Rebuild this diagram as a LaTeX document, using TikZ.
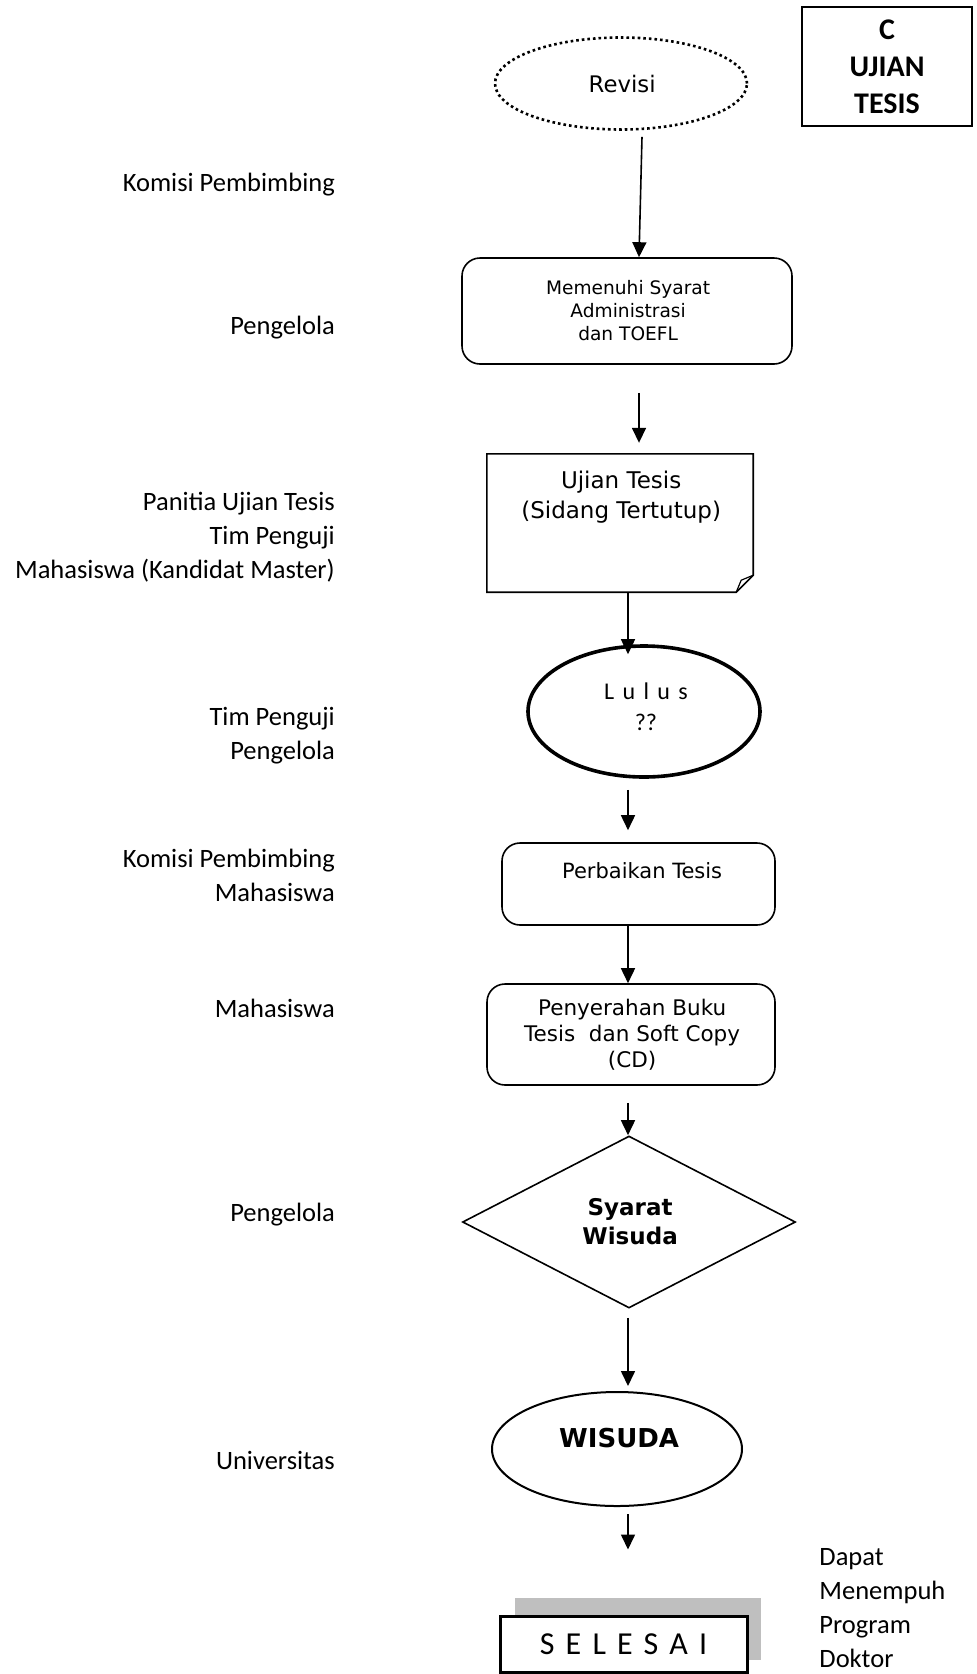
\documentclass[tikz,border=0pt]{standalone}
\usepackage{fontspec}
\setmainfont{Carlito}
\newfontfamily\verdanafont{DejaVu Sans}
\newfontfamily\spacedfont[LetterSpace=35]{Carlito}
\usetikzlibrary{shapes.geometric,arrows.meta,positioning}

\begin{document}
\begin{tikzpicture}[x=1pt,y=-1pt,
	box/.style={draw,line width=1.6pt,rounded corners=18pt,inner sep=0pt},
	arr/.style={line width=1.6pt,-{Triangle[width=14pt,length=15pt]}},
	lbl/.style={anchor=east,align=right,inner sep=0pt,font=\myfontlabel},
	txt/.style={align=center,inner sep=0pt}]
	\newcommand{\myfontlabel}{
		\fontsize{26.5}{34}\selectfont
	}\newcommand{\myfontnode}[2]{
		\verdanafont\fontsize{#1}{#2}\selectfont
	}%Page
	\useasboundingbox (0,0) rectangle (977,1674);
	%Columns of the arrows
	\coordinate (axisup) at (639,0);
	\coordinate (axis) at (628,0);
	%Title box
	\node [draw,line width=1.6pt,minimum width=170pt,minimum height=119pt,align=center,
		font=\bfseries\fontsize{30}{37}\selectfont] (title) at (887,66.5) {C\\UJIAN\\TESIS};
	%Revisi
	\node [ellipse,draw,line width=2.6pt,dash pattern=on 2.6pt off 3pt,minimum width=252pt,
		minimum height=92pt,inner sep=0pt,font=\myfontnode{22.8}{28}] (revisi) at (621,83.5) {Revisi};
	%Memenuhi syarat
	\node [box,minimum width=330pt,minimum height=106pt,align=center,
		font=\myfontnode{18.6}{23}] (memenuhi) at (627,311) {Memenuhi Syarat\\Administrasi\\dan TOEFL};
	%Ujian tesis (document with folded corner)
	\node [minimum width=266pt,minimum height=138pt,inner sep=0pt] (ujian) at (620,523) {};
	\draw [line width=1.6pt] (ujian.north west) -- (ujian.north east) -- ([yshift=17pt]ujian.south east)
		-- ([xshift=-17pt]ujian.south east) -- (ujian.south west) -- cycle;
	\draw [line width=1.2pt] ([xshift=-17pt]ujian.south east) -- ([xshift=-12pt,yshift=12pt]ujian.south east)
		-- ([yshift=17pt]ujian.south east);
	\node [txt,font=\myfontnode{23}{30}] (ujiantext) at (620,497) {Ujian Tesis\\(Sidang Tertutup)};
	%Lulus
	\node [ellipse,draw,line width=3.6pt,minimum width=232pt,minimum height=131pt,inner sep=0pt] (lulus) at (644,711.5) {};
	\node [txt,font=\fontsize{24}{31}\selectfont] (lulustext) at (646,706.5) {{\spacedfont Lulus}\\??};
	%Perbaikan tesis
	\node [box,minimum width=273pt,minimum height=82pt] (perbaikan) at (638.5,884) {};
	\node [txt,font=\myfontnode{21}{26}] (perbaikantext) at (641,871) {Perbaikan Tesis};
	%Penyerahan buku
	\node [box,minimum width=288pt,minimum height=101pt,align=center,
		font=\myfontnode{21.5}{26}] (penyerahan) at (631,1034.5) {Penyerahan Buku\\Tesis~ dan Soft Copy\\(CD)};
	%Syarat wisuda
	\node [diamond,draw,line width=1.6pt,minimum width=333pt,minimum height=172pt,inner sep=0pt,align=center,
		font=\bfseries\myfontnode{23}{29}] (syarat) at (629,1222) {Syarat\\Wisuda};
	%Wisuda
	\node [ellipse,draw,line width=2pt,minimum width=250pt,minimum height=114pt,inner sep=0pt] (wisuda) at (617,1449) {};
	\node [txt,font=\bfseries\myfontnode{26}{32}] (wisudatext) at (618,1438) {WISUDA};
	%Selesai with its shadow
	\fill [gray!50] (515,1598) rectangle (761,1660);
	\node [draw,fill=white,line width=3pt,minimum width=247pt,minimum height=56pt,inner sep=0pt,
		font=\spacedfont\fontsize{32}{38}\selectfont] (selesai) at (623.5,1644) {SELESAI};
	\node [anchor=west,align=left,inner sep=0pt,font=\myfontlabel] (dapat) at (817,1608) {Dapat\\Menempuh\\Program\\Doktor};
	%Labels on the left
	\node [lbl] (komisi) at (335,185) {Komisi Pembimbing};
	\node [lbl] (pengelola) at (335,328) {Pengelola};
	\node [lbl] (panitia) at (335,537.5) {Panitia Ujian Tesis\\Tim Penguji\\Mahasiswa (Kandidat Master)};
	\node [lbl] (penguji) at (335,736) {Tim Penguji\\Pengelola};
	\node [lbl] (komisibawah) at (335,875) {Komisi Pembimbing\\Mahasiswa};
	\node [lbl] (mahasiswa) at (335,1008) {Mahasiswa};
	\node [lbl] (pengelolabawah) at (335,1215) {Pengelola};
	\node [lbl] (universitas) at (335,1460) {Universitas};
	%Arrows
	\draw [arr] ([xshift=21pt,yshift=-6pt]revisi.south) -- ([xshift=12pt]memenuhi.north);
	\draw [arr] ([yshift=-28pt]memenuhi.south -| axisup) -- ([yshift=11pt]ujian.north -| axisup);
	\draw [arr] (ujian.south -| axis) -- ([yshift=-10pt]lulus.north -| axis);
	\draw [arr] ([yshift=-11pt]lulus.south -| axis) -- ([yshift=12pt]perbaikan.north -| axis);
	\draw [arr] (perbaikan.south -| axis) -- (penyerahan.north -| axis);
	\draw [arr] ([yshift=-17pt]penyerahan.south -| axis) -- (syarat.north -| axis);
	\draw [arr] ([yshift=-9pt]syarat.south -| axis) -- ([yshift=5pt]wisuda.north -| axis);
	\draw [arr] ([yshift=-7pt]wisuda.south -| axis) -- ([yshift=65pt]selesai.north -| axis);
\end{tikzpicture}
\end{document}
